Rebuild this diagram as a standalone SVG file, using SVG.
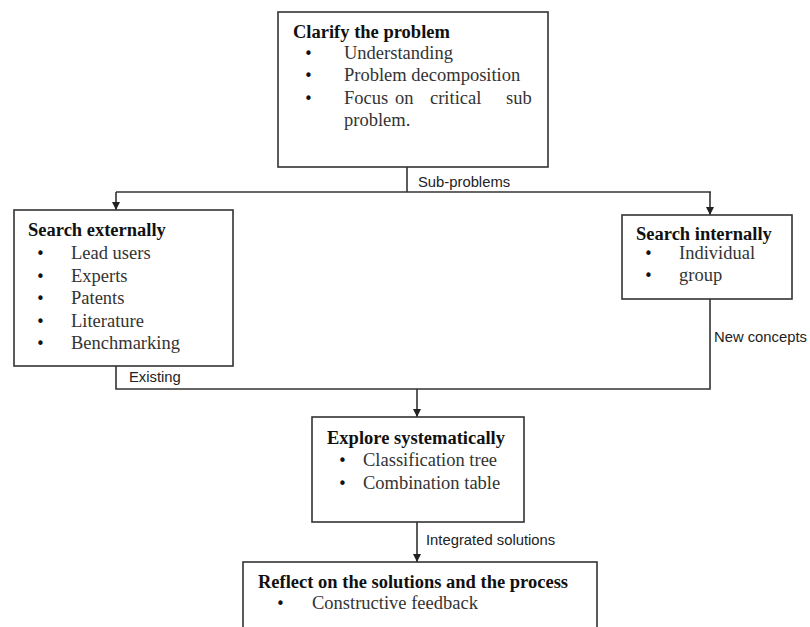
<svg xmlns="http://www.w3.org/2000/svg" width="810" height="627" viewBox="0 0 810 627">
<defs>
<style>
.box{fill:#fff;stroke:#333;stroke-width:1.6}
.t{font-family:"Liberation Serif","Times New Roman",serif;font-size:18.5px;fill:#1a1a1a}
.h{font-weight:bold;fill:#111}
.it{fill:#333}
.b{font-family:"DejaVu Sans",sans-serif;font-size:15px;fill:#111}
.lbl{font-family:"Liberation Sans",Arial,sans-serif;font-size:14.8px;fill:#222}
.ln{fill:none;stroke:#333;stroke-width:1.6}
</style>
<marker id="arr" viewBox="0 0 10 10" refX="10" refY="5" markerWidth="8" markerHeight="8" markerUnits="userSpaceOnUse" orient="auto">
<path d="M0,0 L10,5 L0,10 z" fill="#222"/>
</marker>
</defs>
<rect width="810" height="627" fill="#fff"/>
<g id="connectors">
<path class="ln" d="M407,167 V192"/>
<path class="ln" d="M116,192 H711"/>
<path class="ln" d="M116,192 V210" marker-end="url(#arr)"/>
<path class="ln" d="M710,192 V215" marker-end="url(#arr)"/>
<path class="ln" d="M116,366 V389 H710 V299"/>
<path class="ln" d="M417,389 V417" marker-end="url(#arr)"/>
<path class="ln" d="M417,522 V562" marker-end="url(#arr)"/>
<text class="lbl" x="418" y="187">Sub-problems</text>
<text class="lbl" x="129" y="382">Existing</text>
<text class="lbl" x="714" y="342">New concepts</text>
<text class="lbl" x="426" y="545">Integrated solutions</text>
</g>
<g id="clarify">
<rect class="box" x="278" y="12" width="270" height="155"/>
<text class="t h" x="293" y="38">Clarify the problem</text>
<text class="b" x="304" y="59">•</text><text class="t it" x="344" y="59">Understanding</text>
<text class="b" x="304" y="81">•</text><text class="t it" x="344" y="81">Problem decomposition</text>
<text class="b" x="304" y="104">•</text><text class="t it" x="344" y="104">Focus</text><text class="t it" x="395" y="104">on</text><text class="t it" x="430" y="104">critical</text><text class="t it" x="506" y="104">sub</text>
<text class="t it" x="344" y="126">problem.</text>
</g>
<g id="external">
<rect class="box" x="14" y="210" width="219" height="156"/>
<text class="t h" x="28" y="236">Search externally</text>
<text class="b" x="36" y="259">•</text><text class="t it" x="71" y="259">Lead users</text>
<text class="b" x="36" y="282">•</text><text class="t it" x="71" y="282">Experts</text>
<text class="b" x="36" y="304">•</text><text class="t it" x="71" y="304">Patents</text>
<text class="b" x="36" y="327">•</text><text class="t it" x="71" y="327">Literature</text>
<text class="b" x="36" y="349">•</text><text class="t it" x="71" y="349">Benchmarking</text>
</g>
<g id="internal">
<rect class="box" x="622" y="215" width="170" height="84"/>
<text class="t h" x="636" y="240">Search internally</text>
<text class="b" x="644" y="259">•</text><text class="t it" x="679" y="259">Individual</text>
<text class="b" x="644" y="281">•</text><text class="t it" x="679" y="281">group</text>
</g>
<g id="explore">
<rect class="box" x="312" y="417" width="212" height="105"/>
<text class="t h" x="327" y="444">Explore systematically</text>
<text class="b" x="338" y="466">•</text><text class="t it" x="363" y="466">Classification tree</text>
<text class="b" x="338" y="489">•</text><text class="t it" x="363" y="489">Combination table</text>
</g>
<g id="reflect">
<rect class="box" x="243" y="562" width="354" height="80"/>
<text class="t h" x="258" y="588">Reflect on the solutions and the process</text>
<text class="b" x="276" y="609">•</text><text class="t it" x="312" y="609">Constructive feedback</text>
</g>
</svg>
